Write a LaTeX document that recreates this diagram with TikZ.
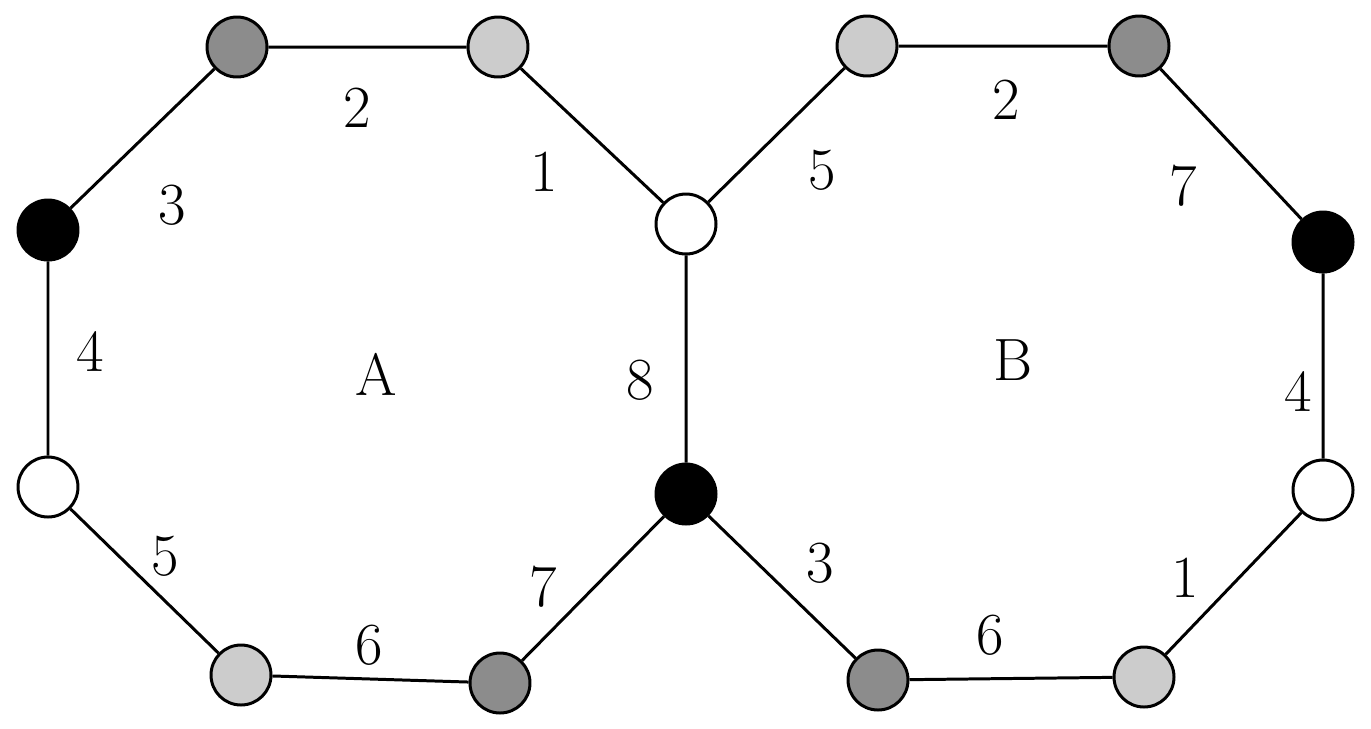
\documentclass[tikz,border=0pt]{standalone}
\begin{document}
\begin{tikzpicture}[x=0.02cm,y=-0.02cm,
  v/.style={circle,draw,line width=1.7pt,minimum size=1.2cm,inner sep=0pt},
  dk/.style={v,fill=black!45}, lt/.style={v,fill=black!20}, wh/.style={v,fill=white}, bk/.style={v,fill=black},
  lab/.style={font=\fontsize{34}{40}\selectfont}, e/.style={line width=1.7pt}]
\useasboundingbox (0,0) rectangle (1371,728);
\node[dk] (a1) at (237,47) {}; \node[lt] (a2) at (498,47) {};
\node[wh] (a3) at (686,224) {}; \node[bk] (a4) at (686,494) {};
\node[dk] (a5) at (500,683) {}; \node[lt] (a6) at (241,675) {};
\node[wh] (a7) at (48,487) {}; \node[bk] (a8) at (48,230) {};
\node[lt] (b1) at (867,46) {}; \node[dk] (b2) at (1139,46) {};
\node[bk] (b3) at (1323,242) {}; \node[wh] (b4) at (1323,490) {};
\node[lt] (b5) at (1144,677) {}; \node[dk] (b6) at (878,680) {};
\draw[e] (a1)--(a2)--(a3)--(a4)--(a5)--(a6)--(a7)--(a8)--(a1);
\draw[e] (a3)--(b1)--(b2)--(b3)--(b4)--(b5)--(b6)--(a4);
\node[lab] (l1) at (357,108) {2}; \node[lab] (l2) at (544,172) {1};
\node[lab] (l3) at (172,205) {3}; \node[lab] (l4) at (90,352) {4};
\node[lab] (l5) at (376,374) {A}; \node[lab] (l6) at (640,380) {8};
\node[lab] (l7) at (165,556) {5}; \node[lab] (l8) at (369,645) {6};
\node[lab] (l9) at (543,587) {7}; \node[lab] (l10) at (822,170) {5};
\node[lab] (l11) at (1006,100) {2}; \node[lab] (l12) at (1183,186) {7};
\node[lab] (l13) at (1013,360) {B}; \node[lab] (l14) at (1298,392) {4};
\node[lab] (l15) at (820,563) {3}; \node[lab] (l16) at (990,635) {6};
\node[lab] (l17) at (1185,578) {1};
\end{tikzpicture}
\end{document}
